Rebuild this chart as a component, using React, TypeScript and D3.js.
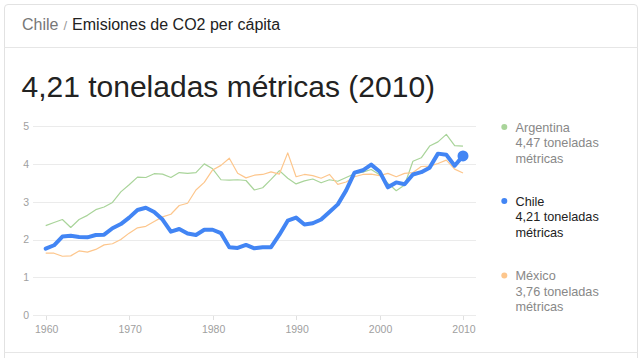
import React from "react";
import * as d3 from "d3";

const years: number[] = d3.range(1960, 2011);

const chile: number[] = [1.76,1.85,2.08,2.10,2.07,2.06,2.12,2.13,2.30,2.41,2.58,2.78,2.84,2.73,2.53,2.21,2.28,2.16,2.12,2.26,2.26,2.17,1.80,1.78,1.86,1.77,1.80,1.80,2.13,2.50,2.58,2.40,2.43,2.53,2.73,2.93,3.30,3.77,3.83,3.98,3.80,3.38,3.51,3.46,3.72,3.78,3.90,4.27,4.24,3.95,4.21];
const argentina: number[] = [2.37,2.45,2.53,2.32,2.53,2.64,2.79,2.86,2.98,3.26,3.45,3.65,3.64,3.74,3.73,3.64,3.77,3.75,3.77,4.00,3.87,3.58,3.57,3.58,3.56,3.31,3.37,3.59,3.82,3.62,3.47,3.55,3.60,3.50,3.58,3.54,3.64,3.74,3.78,3.85,3.71,3.49,3.29,3.44,4.07,4.16,4.47,4.58,4.78,4.48,4.47];
const mexico: number[] = [1.64,1.64,1.56,1.57,1.70,1.67,1.74,1.86,1.89,2.00,2.17,2.31,2.35,2.48,2.60,2.67,2.90,2.96,3.31,3.51,3.84,3.96,4.15,3.75,3.63,3.70,3.72,3.79,3.73,4.29,3.66,3.72,3.69,3.62,3.72,3.46,3.52,3.66,3.72,3.73,3.69,3.75,3.66,3.75,3.77,3.93,3.94,4.01,4.10,3.86,3.76];

const yTicks: number[] = [0, 1, 2, 3, 4, 5];
const xTicks: number[] = [1960, 1970, 1980, 1990, 2000, 2010];

const legendNames: string[] = ["Argentina", "Chile", "México"];
const legendValues: string[] = ["4,47 toneladas", "4,21 toneladas", "3,76 toneladas"];

const FONT = "Arial, 'Liberation Sans', sans-serif";

export default function App() {
  const W = 643, H = 358;
  const x = d3.scaleLinear().domain([1960, 2010]).range([45.7, 463]);
  const y = d3.scaleLinear().domain([0, 5]).range([315.3, 126]);
  const line = d3.line<number>().x((_, i) => x(years[i])).y((d) => y(d));

  const colors = ["#a9d49a", "#4285f4", "#fdc68c"];
  const legendY = [127, 201, 275.5];

  return (
    <div style={{ position: "absolute", left: 0, top: 0 }}>
      <svg width={W} height={H} style={{ display: "block", fontFamily: FONT }}>
        <rect x={0} y={0} width={W} height={H} fill="#fff" />
        {/* card border */}
        <path d="M4.5,358 L4.5,8 Q4.5,4.5 8,4.5 L634,4.5 Q637.5,4.5 637.5,8 L637.5,358" fill="none" stroke="#e2e2e2" />
        <line x1={4.5} x2={637.5} y1={47.5} y2={47.5} stroke="#e6e6e6" />
        <line x1={4.5} x2={637.5} y1={352.5} y2={352.5} stroke="#e6e6e6" />

        {/* breadcrumb */}
        <text x={22} y={30} fontSize={16} fill="#222">
          <tspan fill="#777">Chile</tspan>
          <tspan fill="#999" dx={5} fontSize={13}>/</tspan>
          <tspan dx={5}>Emisiones de CO2 per cápita</tspan>
        </text>

        {/* title */}
        <text x={21.5} y={97} fontSize={30} fill="#222">4,21 toneladas métricas (2010)</text>

        {/* grid */}
        {yTicks.map((t) => (
          <g key={"y" + t}>
            <line x1={33} x2={476} y1={Math.round(y(t)) + 0.5} y2={Math.round(y(t)) + 0.5} stroke="#ebebeb" />
            <text x={29} y={y(t) + 3.8} fontSize={10.5} fill="#a0a0a0" textAnchor="end">{t}</text>
          </g>
        ))}
        {xTicks.map((t) => (
          <g key={"x" + t}>
            <line x1={Math.round(x(t)) + 0.5} x2={Math.round(x(t)) + 0.5} y1={316} y2={320} stroke="#e0e0e0" />
            <text x={x(t) + 1} y={333} fontSize={10.5} fill="#a0a0a0" textAnchor="middle">{t}</text>
          </g>
        ))}

        {/* lines */}
        <path d={line(argentina) || ""} fill="none" stroke={colors[0]} strokeWidth={1.2} strokeLinejoin="round" />
        <path d={line(mexico) || ""} fill="none" stroke={colors[2]} strokeWidth={1.2} strokeLinejoin="round" />
        <path d={line(chile) || ""} fill="none" stroke={colors[1]} strokeWidth={4} strokeLinejoin="round" strokeLinecap="round" />
        <circle cx={x(2010)} cy={y(chile[chile.length - 1])} r={5.5} fill={colors[1]} />

        {/* legend */}
        {legendNames.map((n, i) => {
          const fill = i === 1 ? "#222" : "#888";
          const cy = legendY[i];
          return (
            <g key={n}>
              <circle cx={504.3} cy={cy} r={3} fill={colors[i]} />
              <text x={515.5} y={cy + 4.7} fontSize={12.7} fill={fill}>{n}</text>
              <text x={515.5} y={cy + 20.3} fontSize={12.7} fill={fill}>{legendValues[i]}</text>
              <text x={515.5} y={cy + 35.9} fontSize={12.7} fill={fill}>métricas</text>
            </g>
          );
        })}
      </svg>
    </div>
  );
}
